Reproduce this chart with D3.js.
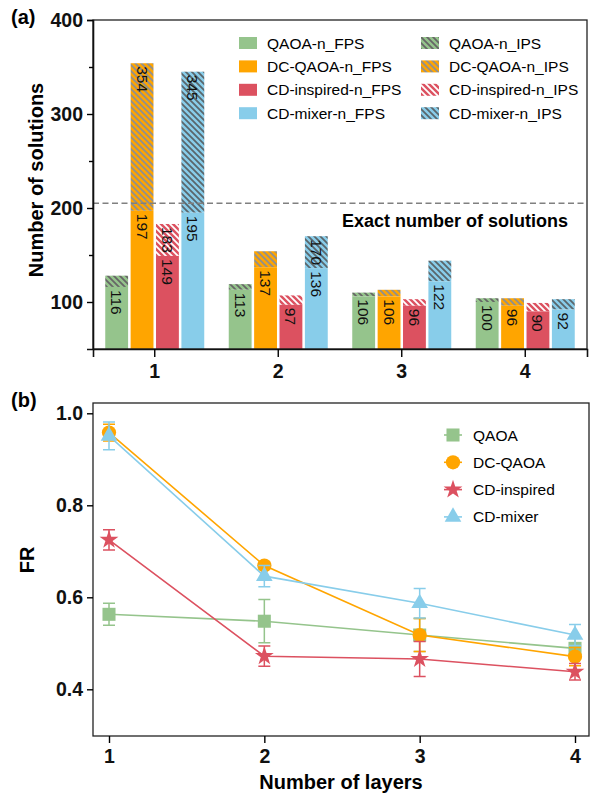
<!DOCTYPE html>
<html>
<head>
<meta charset="utf-8">
<script src="https://cdn.jsdelivr.net/npm/d3@7"></script>
<style>
  body { margin: 0; background: #fff; }
  text { font-family: "Liberation Sans", Arial, sans-serif; }
</style>
</head>
<body>
<script>
// ---- data (a) ----
const layers = ["1", "2", "3", "4"];
const methods = ["QAOA", "DC-QAOA", "CD-inspired", "CD-mixer"];
const fpsQAOA = [116, 113, 106, 100];
const fpsDC = [197, 137, 106, 96];
const fpsCDI = [149, 97, 96, 90];
const fpsCDM = [195, 136, 122, 92];
const ipsQAOA = [128, 119, 110, 104];
const ipsDC = [354, 154, 113, 104];
const ipsCDI = [183, 107, 103, 99];
const ipsCDM = [345, 170, 144, 103];
const exactSolutions = 205;
const yTicksA = [100, 200, 300, 400];

// ---- data (b) ----
const layerNums = [1, 2, 3, 4];
const frQAOA = [0.563, 0.548, 0.518, 0.489];
const errQAOA = [0.024, 0.047, 0.036, 0.022];
const frDC = [0.958, 0.669, 0.518, 0.471];
const errDC = [0.018, 0.008, 0.036, 0.02];
const frCDI = [0.725, 0.472, 0.466, 0.438];
const errCDI = [0.022, 0.022, 0.038, 0.018];
const frCDM = [0.951, 0.646, 0.587, 0.518];
const errCDM = [0.03, 0.023, 0.032, 0.023];
const yTicksB = [0.4, 0.6, 0.8, 1.0];

const colors = ["#95c48c", "#ffa500", "#dc5160", "#88cdea"];
const hatchStroke = ["#666666", "#8f8f8f", "#ffffff", "#5a666b"];
const fpsAll = [fpsQAOA, fpsDC, fpsCDI, fpsCDM];
const ipsAll = [ipsQAOA, ipsDC, ipsCDI, ipsCDM];

const svg = d3.select("body").append("svg")
  .attr("width", 592).attr("height", 793);

// hatch patterns
const defs = svg.append("defs");
colors.forEach((c, i) => {
  const p = defs.append("pattern")
    .attr("id", "hatch" + i)
    .attr("patternUnits", "userSpaceOnUse")
    .attr("width", 6).attr("height", 6);
  p.append("rect").attr("width", 6).attr("height", 6).attr("fill", c);
  p.append("path")
    .attr("d", "M0,0 L6,6 M-3,3 L3,9 M3,-3 L9,3")
    .attr("stroke", hatchStroke[i]).attr("stroke-width", 1.8);
});

// ===== panel (a) =====
const left = 93, rightA = 587, topA = 20, botA = 349;
const x0 = d3.scaleBand().domain(layers).range([left, rightA]);
const x1 = d3.scaleBand().domain(methods).range([-49.5, 49.5]).paddingInner(0.1);
const yA = d3.scaleLinear().domain([50, 400]).range([botA, topA]);

const bars = [];
methods.forEach((m, mi) => {
  layers.forEach((l, li) => {
    bars.push({ m, mi, l, fps: fpsAll[mi][li], ips: ipsAll[mi][li] });
  });
});

const gA = svg.append("g");
const bx = d => x0(d.l) + x0.bandwidth() / 2 + x1(d.m);

gA.selectAll("rect.ips").data(bars).enter().append("rect")
  .attr("x", bx).attr("width", x1.bandwidth())
  .attr("y", d => yA(d.ips)).attr("height", d => yA(d.fps) - yA(d.ips))
  .attr("fill", d => "url(#hatch" + d.mi + ")");

gA.selectAll("rect.fps").data(bars).enter().append("rect")
  .attr("x", bx).attr("width", x1.bandwidth())
  .attr("y", d => yA(d.fps)).attr("height", d => botA - yA(d.fps))
  .attr("fill", d => colors[d.mi]);

// value labels
const labels = [];
bars.forEach(d => {
  labels.push({ d, v: d.fps });
  if (d.ips - d.fps > 30) labels.push({ d, v: d.ips });
});
gA.selectAll("text.lbl").data(labels).enter().append("text")
  .attr("transform", o => `translate(${bx(o.d) + x1.bandwidth() / 2},${yA(o.v) + 3}) rotate(90)`)
  .attr("dominant-baseline", "central")
  .attr("font-size", 15.5)
  .attr("fill", "#111")
  .text(o => o.v);

// exact number line
gA.append("line")
  .attr("x1", left).attr("x2", rightA)
  .attr("y1", yA(exactSolutions)).attr("y2", yA(exactSolutions))
  .attr("stroke", "#808080").attr("stroke-width", 1.5)
  .attr("stroke-dasharray", "6,3.5");
gA.append("text")
  .attr("x", 568).attr("y", 227)
  .attr("text-anchor", "end")
  .attr("font-size", 18).attr("font-weight", "bold")
  .text("Exact number of solutions");

// frame + axes
gA.append("rect").attr("x", left).attr("y", topA)
  .attr("width", rightA - left).attr("height", botA - topA)
  .attr("fill", "none").attr("stroke", "#222").attr("stroke-width", 1.3);

const axA = gA.append("g").attr("transform", `translate(${left},0)`)
  .call(d3.axisLeft(yA).tickValues(yTicksA).tickSize(6).tickPadding(4).tickFormat(d3.format("d")));
gA.append("g").attr("transform", `translate(${left},0)`)
  .call(d3.axisLeft(yA).tickValues([150, 250, 350]).tickSize(4).tickFormat(""))
  .call(g => g.select(".domain").remove());
const axAx = gA.append("g").attr("transform", `translate(0,${botA})`)
  .call(d3.axisBottom(x0).tickSize(8).tickPadding(7));

[axA, axAx].forEach(a => {
  a.select(".domain").attr("stroke-width", 1.6).attr("stroke", "#111");
  a.selectAll("text").attr("font-size", 19.5).attr("font-weight", "bold")
    .attr("font-family", "Liberation Sans, Arial, sans-serif").attr("fill", "#111");
});
gA.selectAll(".tick line").attr("stroke-width", 1.4);

gA.append("text")
  .attr("transform", "translate(36,180) rotate(-90)")
  .attr("text-anchor", "middle").attr("dominant-baseline", "central")
  .attr("font-size", 20).attr("font-weight", "bold")
  .text("Number of solutions");
gA.append("text").attr("x", 11).attr("y", 24)
  .attr("font-size", 20).attr("font-weight", "bold").text("(a)");

// legend (a)
const legA = gA.append("g");
methods.forEach((m, i) => {
  const yy = 43 + i * 23.4;
  legA.append("rect").attr("x", 239).attr("y", yy - 6).attr("width", 18).attr("height", 12)
    .attr("fill", colors[i]);
  legA.append("text").attr("x", 267).attr("y", yy).attr("dominant-baseline", "central")
    .attr("font-size", 15.5).text(m + "-n_FPS");
  legA.append("rect").attr("x", 421).attr("y", yy - 6).attr("width", 18).attr("height", 12)
    .attr("fill", "url(#hatch" + i + ")");
  legA.append("text").attr("x", 449).attr("y", yy).attr("dominant-baseline", "central")
    .attr("font-size", 15.5).text(m + "-n_IPS");
});

// ===== panel (b) =====
const rightB = 589, topB = 403, botB = 736;
const xB = d3.scaleLinear().domain([1, 4]).range([109, 575]);
const yB = d3.scaleLinear().domain([0.4, 1.0]).range([689.3, 413.3]);

const series = [
  { name: "QAOA", fr: frQAOA, err: errQAOA, sym: d3.symbolSquare, size: 170 },
  { name: "DC-QAOA", fr: frDC, err: errDC, sym: d3.symbolCircle, size: 160 },
  { name: "CD-inspired", fr: frCDI, err: errCDI, sym: d3.symbolStar, size: 110 },
  { name: "CD-mixer", fr: frCDM, err: errCDM, sym: d3.symbolTriangle, size: 120 }
];

const gB = svg.append("g");
gB.append("rect").attr("x", left).attr("y", topB)
  .attr("width", rightB - left).attr("height", botB - topB)
  .attr("fill", "none").attr("stroke", "#222").attr("stroke-width", 1.3);

const line = d3.line().x((d, i) => xB(layerNums[i])).y(d => yB(d));

series.forEach((s, si) => {
  const g = gB.append("g");
  g.append("path").datum(s.fr).attr("d", line)
    .attr("fill", "none").attr("stroke", colors[si]).attr("stroke-width", 1.6);
  s.fr.forEach((v, i) => {
    const cx = xB(layerNums[i]);
    const t = yB(v + s.err[i]), b = yB(v - s.err[i]);
    g.append("path")
      .attr("d", `M${cx},${t}V${b}M${cx - 6},${t}H${cx + 6}M${cx - 6},${b}H${cx + 6}`)
      .attr("stroke", colors[si]).attr("stroke-width", 1.5).attr("fill", "none");
    g.append("path")
      .attr("transform", `translate(${cx},${yB(v)})`)
      .attr("d", d3.symbol().type(s.sym).size(s.size)())
      .attr("fill", colors[si]);
  });
});

const axB = gB.append("g").attr("transform", `translate(${left},0)`)
  .call(d3.axisLeft(yB).tickValues(yTicksB).tickSize(6).tickPadding(4).tickFormat(d3.format(".1f")));
axB.select(".domain").remove();
const axBx = gB.append("g").attr("transform", `translate(0,${botB})`)
  .call(d3.axisBottom(xB).tickValues(layerNums).tickSize(7).tickPadding(6).tickFormat(d3.format("d")));
axBx.select(".domain").remove();
[axB, axBx].forEach(a => {
  a.selectAll("text").attr("font-size", 19.5).attr("font-weight", "bold")
    .attr("font-family", "Liberation Sans, Arial, sans-serif").attr("fill", "#111");
  a.selectAll(".tick line").attr("stroke-width", 1.4);
});

gB.append("text")
  .attr("transform", "translate(27,560) rotate(-90)")
  .attr("text-anchor", "middle").attr("dominant-baseline", "central")
  .attr("font-size", 20).attr("font-weight", "bold").text("FR");
gB.append("text").attr("x", 341).attr("y", 782)
  .attr("text-anchor", "middle").attr("dominant-baseline", "central")
  .attr("font-size", 20).attr("font-weight", "bold").text("Number of layers");
gB.append("text").attr("x", 11).attr("y", 407)
  .attr("font-size", 20).attr("font-weight", "bold").text("(b)");

// legend (b)
series.forEach((s, i) => {
  const yy = 435 + i * 27.3;
  gB.append("line").attr("x1", 444).attr("x2", 462).attr("y1", yy).attr("y2", yy)
    .attr("stroke", colors[i]).attr("stroke-width", 1.6);
  gB.append("path").attr("transform", `translate(453,${yy})`)
    .attr("d", d3.symbol().type(s.sym).size(s.size)()).attr("fill", colors[i]);
  gB.append("text").attr("x", 473).attr("y", yy).attr("dominant-baseline", "central")
    .attr("font-size", 15.5).text(s.name);
});
</script>
</body>
</html>
